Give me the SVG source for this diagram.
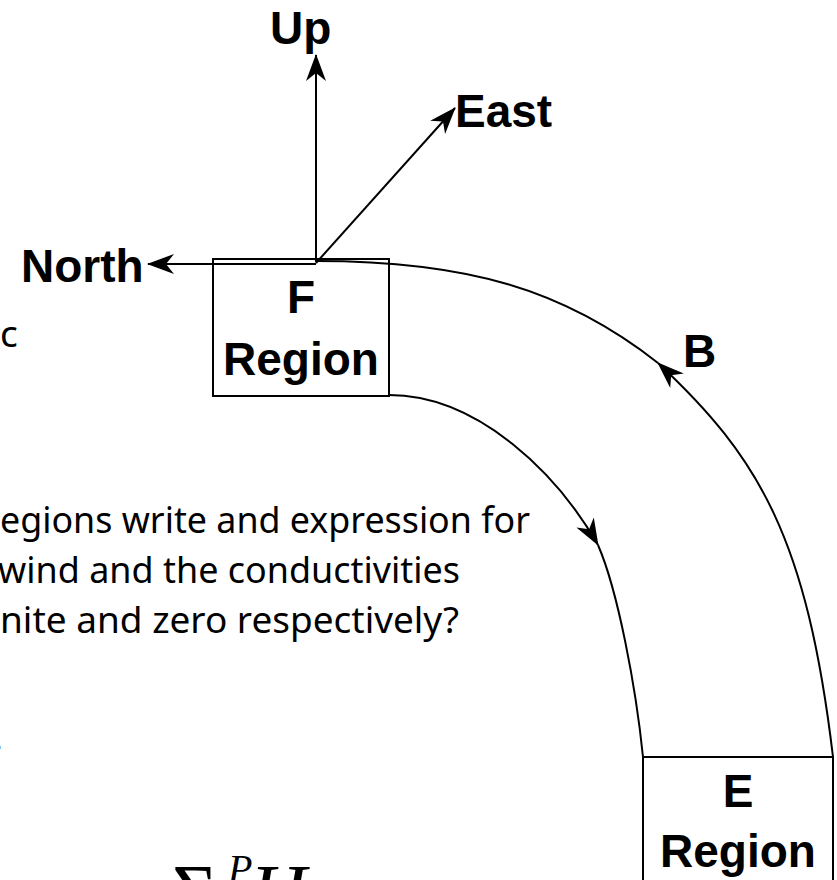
<svg xmlns="http://www.w3.org/2000/svg" width="837" height="880" viewBox="0 0 837 880">
<style>
.ln{fill:none;stroke:#000;stroke-width:2}
.box{fill:none;stroke:#000;stroke-width:2}
.bl{font-family:"Liberation Sans",Arial,sans-serif;font-weight:bold;font-size:46px;fill:#000}
.mid{text-anchor:middle}
.tx{font-family:"Noto Sans","Open Sans",sans-serif;font-size:37px;fill:#000}
.math{font-family:"Liberation Serif","Times New Roman",serif;fill:#000}
</style>
<defs>
<marker id="ah" markerUnits="userSpaceOnUse" markerWidth="27" markerHeight="20" viewBox="0 0 27 20" refX="26" refY="10" orient="auto">
<path d="M0,0 L27,10 L0,20 L8,10 Z" fill="#000"/>
</marker>
</defs>
<rect width="837" height="880" fill="#fff"/>

<g id="text-left">
<text class="tx" x="0" y="347">c</text>
<text class="tx" x="0" y="533" textLength="530" lengthAdjust="spacingAndGlyphs">egions write and expression for</text>
<text class="tx" x="-2" y="583" textLength="462" lengthAdjust="spacingAndGlyphs">wind and the conductivities</text>
<text class="tx" x="0" y="633" textLength="459" lengthAdjust="spacingAndGlyphs">nite and zero respectively?</text>
<text class="tx" x="-7" y="750">.</text>
</g>

<g id="math">
<text class="math" x="172" y="918" font-size="78">Σ</text>
<text class="math" x="228" y="882" font-size="40" font-style="italic">P</text>
<text class="math" x="250" y="918" font-size="78" font-style="italic">H</text>
</g>

<g id="node-F">
<rect class="box" x="213" y="259" width="176" height="137"/>
<text class="bl mid" x="301" y="313">F</text>
<text class="bl mid" x="301" y="375">Region</text>
</g>

<g id="node-E">
<rect class="box" x="643" y="757" width="190" height="140"/>
<text class="bl mid" x="738" y="807">E</text>
<text class="bl mid" x="738" y="867">Region</text>
</g>

<g id="connectors">
<path class="ln" d="M316,262 L316,55" marker-end="url(#ah)"/>
<path class="ln" d="M316,263 L455,108" marker-end="url(#ah)"/>
<path class="ln" d="M316,264 L148,264" marker-end="url(#ah)"/>
<path class="ln" d="M833,757 C807,539 760,458 658,363" marker-end="url(#ah)"/>
<path class="ln" d="M658,363 C564,289 466,261 316,261"/>
<path class="ln" d="M389,395 C479,395 558,475 598,545" marker-end="url(#ah)"/>
<path class="ln" d="M598,545 C618,591 636,688 643,757"/>
</g>

<g id="labels">
<text class="bl" x="270" y="44">Up</text>
<text class="bl" x="455" y="127">East</text>
<text class="bl" x="21" y="282">North</text>
<text class="bl" x="683" y="367">B</text>
</g>
</svg>
